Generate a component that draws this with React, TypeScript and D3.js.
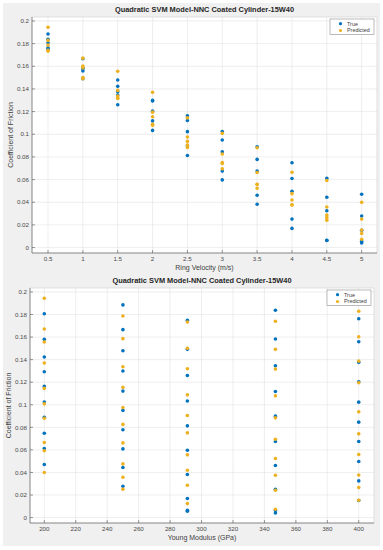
import * as d3 from "d3";
import React from "react";

// velocities (m/s) and young modulus groups (GPa)
const velocities = [0.5, 1, 1.5, 2, 2.5, 3, 3.5, 4, 4.5, 5];
const moduli = [200, 250, 291, 347, 400];

// coefficient of friction, one row per modulus, one column per velocity
const trueCof = [
  [0.1807, 0.158, 0.1423, 0.1293, 0.1163, 0.1025, 0.089, 0.0748, 0.0612, 0.047],
  [0.1885, 0.1666, 0.1479, 0.1299, 0.1121, 0.095, 0.0778, 0.0609, 0.0444, 0.0278],
  [0.1749, 0.1491, 0.126, 0.1034, 0.0813, 0.0597, 0.0382, 0.0169, 0.0065, 0.0056],
  [0.1838, 0.1583, 0.1346, 0.1118, 0.0899, 0.0675, 0.0462, 0.0251, 0.0062, 0.0041],
  [0.1763, 0.1559, 0.1376, 0.1204, 0.1023, 0.0846, 0.0675, 0.0497, 0.0325, 0.0152],
];
const predCof = [
  [0.1944, 0.1672, 0.1556, 0.137, 0.1145, 0.1008, 0.0881, 0.0665, 0.0592, 0.0399],
  [0.1787, 0.1586, 0.1337, 0.1154, 0.0976, 0.0826, 0.0662, 0.0476, 0.0358, 0.0251],
  [0.1734, 0.15, 0.1319, 0.1088, 0.0905, 0.0751, 0.0556, 0.042, 0.0287, 0.0124],
  [0.174, 0.1491, 0.1316, 0.1079, 0.0884, 0.0695, 0.0524, 0.0375, 0.0242, 0.0074],
  [0.1829, 0.1603, 0.1387, 0.1195, 0.0937, 0.0742, 0.0559, 0.0378, 0.0266, 0.0154],
];

const yTicks = [0, 0.02, 0.04, 0.06, 0.08, 0.1, 0.12, 0.14, 0.16, 0.18, 0.2];
const velTicks = [0.5, 1, 1.5, 2, 2.5, 3, 3.5, 4, 4.5, 5];
const modTicks = [200, 220, 240, 260, 280, 300, 320, 340, 360, 380, 400];

const title = "Quadratic SVM Model-NNC Coated Cylinder-15W40";
const blue = "#0072BD";
const yellow = "#EDB120";
const font = "'Liberation Sans', Arial, sans-serif";

type Pt = { x: number; y: number };

function Panel(props: {
  left: number; right: number; top: number; bottom: number;
  xDomain: [number, number]; xTicks: number[]; xLabel: string;
  trueP: Pt[]; predP: Pt[];
}) {
  const { left, right, top, bottom } = props;
  const x = d3.scaleLinear().domain(props.xDomain).range([left, right]);
  const y = d3.scaleLinear().domain([-0.0048, 0.2035]).range([bottom, top]);
  const fmt = (v: number) => String(+v.toFixed(2));
  return (
    <g>
      <rect x={left} y={top} width={right - left} height={bottom - top} fill="#fff" />
      {props.xTicks.map((t) => (
        <line key={"gx" + t} x1={x(t)} x2={x(t)} y1={top} y2={bottom} stroke="#e3e3e3" strokeWidth={0.6} />
      ))}
      {yTicks.map((t) => (
        <line key={"gy" + t} x1={left} x2={right} y1={y(t)} y2={y(t)} stroke="#e3e3e3" strokeWidth={0.6} />
      ))}
      <rect x={left} y={top} width={right - left} height={bottom - top} fill="none" stroke="#cfcfcf" strokeWidth={0.6} />
      <line x1={left} x2={left} y1={top} y2={bottom} stroke="#555" strokeWidth={0.6} />
      <line x1={left} x2={right} y1={bottom} y2={bottom} stroke="#555" strokeWidth={0.6} />
      {props.xTicks.map((t) => (
        <g key={"tx" + t}>
          <line x1={x(t)} x2={x(t)} y1={bottom} y2={bottom - 3} stroke="#555" strokeWidth={0.6} />
          <text x={x(t)} y={bottom + 8} fontSize={6.2} fill="#4a4a4a" textAnchor="middle">{String(t)}</text>
        </g>
      ))}
      {yTicks.map((t) => (
        <g key={"ty" + t}>
          <line x1={left} x2={left + 3} y1={y(t)} y2={y(t)} stroke="#555" strokeWidth={0.6} />
          <text x={left - 3} y={y(t) + 2.2} fontSize={6.2} fill="#4a4a4a" textAnchor="end">{fmt(t)}</text>
        </g>
      ))}
      {props.trueP.map((p, i) => (
        <circle key={"t" + i} cx={x(p.x)} cy={y(p.y)} r={1.8} fill={blue} />
      ))}
      {props.predP.map((p, i) => (
        <circle key={"p" + i} cx={x(p.x)} cy={y(p.y)} r={1.8} fill={yellow} />
      ))}
      <text x={(left + right) / 2} y={top - 5} fontSize={7.4} fontWeight="bold" fill="#262626" textAnchor="middle">{title}</text>
      <text x={(left + right) / 2} y={bottom + 17} fontSize={7} fill="#404040" textAnchor="middle">{props.xLabel}</text>
      <text transform={`translate(${left - 19},${(top + bottom) / 2}) rotate(-90)`} fontSize={7} fill="#404040" textAnchor="middle">Coefficient of Friction</text>
      <g transform={`translate(${right - 47},${top + 2})`}>
        <rect x={0} y={0} width={44} height={15.5} fill="#fff" stroke="#8c8c8c" strokeWidth={0.6} />
        <circle cx={10.5} cy={4.7} r={1.6} fill={blue} />
        <circle cx={10.5} cy={11.5} r={1.6} fill={yellow} />
        <text x={17} y={6.6} fontSize={5.4} fill="#404040">True</text>
        <text x={17} y={13.4} fontSize={5.4} fill="#404040">Predicted</text>
      </g>
    </g>
  );
}

export default function App() {
  const topTrue: Pt[] = [];
  const topPred: Pt[] = [];
  const botTrue: Pt[] = [];
  const botPred: Pt[] = [];
  moduli.forEach((m, i) => {
    velocities.forEach((v, j) => {
      topTrue.push({ x: v, y: trueCof[i][j] });
      topPred.push({ x: v, y: predCof[i][j] });
      botTrue.push({ x: m, y: trueCof[i][j] });
      botPred.push({ x: m, y: predCof[i][j] });
    });
  });
  return (
    <svg width={383} height={550} style={{ position: "absolute", left: 0, top: 0, fontFamily: font }}>
      <rect x={0} y={0} width={383} height={550} fill="#fff" />
      <rect x={3} y={3} width={377} height={543} fill="#f0f0f0" />
      <Panel left={32} right={377} top={17} bottom={253} xDomain={[0.27, 5.22]}
        xTicks={velTicks} xLabel="Ring Velocity (m/s)" trueP={topTrue} predP={topPred} />
      <Panel left={30} right={374} top={288} bottom={523} xDomain={[190.9, 409.7]}
        xTicks={modTicks} xLabel="Young Modulus (GPa)" trueP={botTrue} predP={botPred} />
    </svg>
  );
}
